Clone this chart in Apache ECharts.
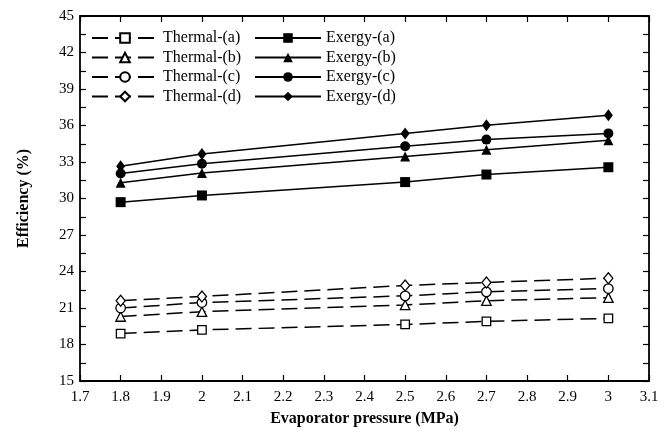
<!DOCTYPE html>
<html>
<head>
<meta charset="utf-8">
<script src="https://cdn.jsdelivr.net/npm/echarts@6/dist/echarts.min.js"></script>
<style>html,body{margin:0;padding:0;background:#fff}#c{width:668px;height:432px}</style>
</head>
<body>
<div id="c"></div>
<script>
const pressures = [1.8, 2.0, 2.5, 2.7, 3.0];
const thermalA = [18.9, 19.2, 19.65, 19.9, 20.15];
const thermalB = [20.3, 20.7, 21.25, 21.6, 21.85];
const thermalC = [21.0, 21.45, 22.0, 22.33, 22.6];
const thermalD = [21.6, 21.95, 22.85, 23.1, 23.45];
const exergyA = [29.7, 30.25, 31.35, 31.97, 32.57];
const exergyB = [31.3, 32.1, 33.45, 34.0, 34.78];
const exergyC = [32.05, 32.85, 34.3, 34.84, 35.35];
const exergyD = [32.65, 33.65, 35.35, 36.03, 36.85];
const seriesNames = ['Thermal-(a)','Thermal-(b)','Thermal-(c)','Thermal-(d)','Exergy-(a)','Exergy-(b)','Exergy-(c)','Exergy-(d)'];

const font = 'Liberation Serif';
function pts(arr){ return pressures.map((p,i)=>[p, arr[i]]); }
function mk(name, data, symbol, size, dashed){
  return {
    name: name, type: 'line', data: pts(data),
    symbol: symbol, symbolSize: size, showSymbol: true,
    lineStyle: {color: '#000', width: 1.5, type: dashed ? [16, 7] : 'solid'},
    itemStyle: {color: dashed ? '#fff' : '#000', borderColor: '#000', borderWidth: dashed ? 1.3 : 0},
    emphasis: {disabled: true},
    z: dashed ? 2 : 3
  };
}
const axisLineStyle = {show: true, lineStyle: {color: '#000', width: 1.8}};
const tickStyle = {show: true, inside: true, length: 6, lineStyle: {color: '#000', width: 1.2}};
const chart = echarts.init(document.getElementById('c'), null, {renderer: 'canvas'});
chart.setOption({
  animation: false,
  backgroundColor: '#fff',
  grid: {left: 80, right: 19, top: 16, bottom: 50},
  legend: [
    {orient: 'vertical', left: 86, top: 25, itemWidth: 66, itemHeight: 12, itemGap: 3.5,
     data: seriesNames.slice(0,4), textStyle: {fontFamily: font, fontSize: 16, color: '#000'}},
    {orient: 'vertical', left: 249, top: 25, itemWidth: 66, itemHeight: 12, itemGap: 3.5,
     data: seriesNames.slice(4), textStyle: {fontFamily: font, fontSize: 16, color: '#000'}}
  ],
  xAxis: [
    {type: 'value', min: 1.7, max: 3.1, interval: 0.1,
     name: 'Evaporator pressure (MPa)', nameLocation: 'middle', nameGap: 30,
     nameTextStyle: {fontFamily: font, fontSize: 16, fontWeight: 'bold', color: '#000'},
     axisLine: axisLineStyle, axisTick: tickStyle, splitLine: {show: false},
     axisLabel: {fontFamily: font, fontSize: 15, color: '#000', margin: 9,
       formatter: v => String(Math.round(v*10)/10)}},
    {type: 'value', position: 'top', min: 1.7, max: 3.1, interval: 0.1,
     axisLine: axisLineStyle, axisTick: tickStyle, axisLabel: {show: false}, splitLine: {show: false}}
  ],
  yAxis: [
    {type: 'value', min: 15, max: 45, interval: 1.5,
     name: 'Efficiency (%)', nameLocation: 'middle', nameGap: 48,
     nameTextStyle: {fontFamily: font, fontSize: 16, fontWeight: 'bold', color: '#000'},
     axisLine: axisLineStyle, axisTick: tickStyle, splitLine: {show: false},
     axisLabel: {fontFamily: font, fontSize: 15, color: '#000', margin: 6,
       formatter: v => (Math.abs(v % 3) < 1e-6 ? String(Math.round(v)) : '')}},
    {type: 'value', position: 'right', min: 15, max: 45, interval: 1.5,
     axisLine: axisLineStyle, axisTick: tickStyle, axisLabel: {show: false}, splitLine: {show: false}}
  ],
  series: [
    mk(seriesNames[0], thermalA, 'rect', 8.5, true),
    mk(seriesNames[1], thermalB, 'triangle', 9.5, true),
    mk(seriesNames[2], thermalC, 'circle', 9.5, true),
    mk(seriesNames[3], thermalD, 'diamond', [9, 11], true),
    mk(seriesNames[4], exergyA, 'rect', 10, false),
    mk(seriesNames[5], exergyB, 'triangle', 10, false),
    mk(seriesNames[6], exergyC, 'circle', 10, false),
    mk(seriesNames[7], exergyD, 'diamond', [9, 12], false)
  ]
});
</script>
</body>
</html>
